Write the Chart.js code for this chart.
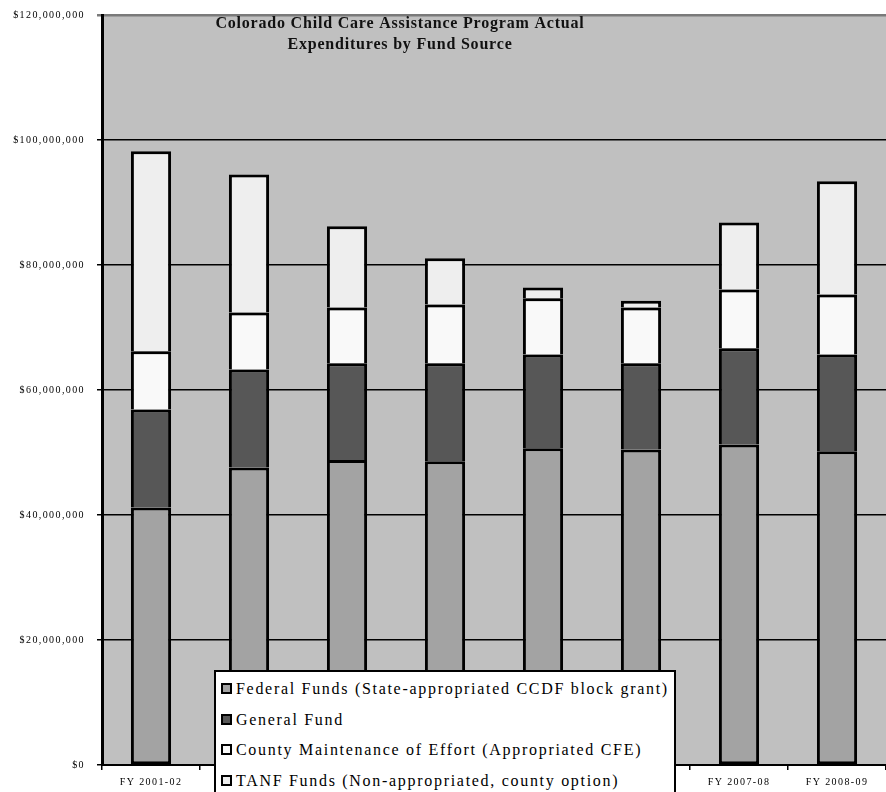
<!DOCTYPE html>
<html>
<head>
<meta charset="utf-8">
<script src="https://cdn.jsdelivr.net/npm/chart.js@4.4.1/dist/chart.umd.min.js"></script>
<style>
    body { margin: 0; background: #fff; }
    #wrap { position: relative; width: 886px; height: 792px; overflow: hidden; }
    #fundLegend {
        position: absolute; left: 214px; top: 670px; width: 462px; height: 140px;
        background: #fff; border: 2px solid #000; box-sizing: border-box;
        font-family: "Liberation Serif", "Times New Roman", serif; font-size: 16px;
        letter-spacing: 1.7px; color: #000; padding: 6px 0 0 5px;
    }
    #fundLegend .row { height: 30.5px; line-height: 22px; white-space: nowrap; }
    #fundLegend .box {
        display: inline-block; width: 7px; height: 7px; border: 2px solid #000;
        margin-right: 4px; vertical-align: 0px;
    }
</style>
</head>
<body>
<div id="wrap">
    <canvas id="myCanvas" width="886" height="792"></canvas>
    <div id="fundLegend"></div>
</div>
<script>
// fiscal years
const years = ['FY 2001-02', 'FY 2002-03', 'FY 2003-04', 'FY 2004-05',
    'FY 2005-06', 'FY 2006-07', 'FY 2007-08', 'FY 2008-09'];

// expenditures in millions of dollars
const federalFunds = [41.2, 47.6, 48.8, 48.6, 50.7, 50.5, 51.3, 50.2];
const generalFund = [15.7, 15.7, 15.5, 15.7, 15.0, 13.8, 15.4, 15.5];
const countyMOE = [9.3, 9.1, 8.9, 9.4, 9.0, 8.9, 9.4, 9.6];
const tanfFunds = [32.0, 22.1, 13.0, 7.4, 1.7, 1.1, 10.7, 18.1];

const seriesNames = [
    'Federal Funds (State-appropriated CCDF block grant)',
    'General Fund',
    'County Maintenance of Effort (Appropriated CFE)',
    'TANF Funds (Non-appropriated, county option)'
];
const seriesColors = ['#a3a3a3', '#575757', '#f9f9f9', '#eeeeee'];

const titleLines = ['Colorado Child Care Assistance Program Actual', 'Expenditures by Fund Source'];

const toDollars = arr => arr.map(v => Math.round(v * 1000000));

const serif = '"Liberation Serif", "Times New Roman", serif';

// grey plot area + letter spacing for the axis text
const plotBackground = {
    id: 'plotBackground',
    beforeDraw(chart) {
        const {ctx, chartArea} = chart;
        ctx.save();
        ctx.fillStyle = '#c0c0c0';
        ctx.fillRect(chartArea.left, chartArea.top, chartArea.right - chartArea.left, chartArea.bottom - chartArea.top);
        ctx.restore();
        ctx.letterSpacing = '1.4px';
    }
};

const chartTitle = {
    id: 'chartTitle',
    afterDatasetsDraw(chart) {
        const ctx = chart.ctx;
        ctx.save();
        ctx.letterSpacing = '0.8px';
        ctx.font = 'bold 16px ' + serif;
        ctx.fillStyle = '#111';
        ctx.textAlign = 'center';
        ctx.textBaseline = 'middle';
        ctx.fillText(titleLines[0], 400, 24);
        ctx.fillText(titleLines[1], 400, 45);
        ctx.restore();
    }
};

const datasets = [federalFunds, generalFund, countyMOE, tanfFunds].map((d, i) => ({
    label: seriesNames[i],
    data: toDollars(d),
    backgroundColor: seriesColors[i],
    borderColor: '#000',
    borderWidth: 3,
    borderSkipped: i === 0 ? false : 'start'
}));

new Chart(document.getElementById('myCanvas'), {
    type: 'bar',
    data: {labels: years, datasets: datasets},
    options: {
        responsive: false,
        animation: false,
        layout: {padding: {top: 15, right: 0, left: 0, bottom: 0}},
        datasets: {bar: {categoryPercentage: 1, barPercentage: 0.41}},
        plugins: {
            legend: {display: false},
            tooltip: {enabled: false}
        },
        scales: {
            x: {
                stacked: true,
                afterFit: s => { s.height = 27; },
                border: {color: '#000', width: 2},
                grid: {drawOnChartArea: false, color: '#000', lineWidth: 1.5, tickLength: 5},
                ticks: {color: '#000', font: {family: serif, size: 10}, padding: 6, maxRotation: 0, autoSkip: false}
            },
            y: {
                stacked: true,
                min: 0,
                max: 120000000,
                afterFit: s => {
                    s.width = 102;
                    s.paddingTop = 0;
                    s.paddingBottom = 0;
                },
                border: {color: '#000', width: 3},
                grid: {
                    color: c => c.index === 6 ? '#7a7a7a' : '#000',
                    lineWidth: c => c.index === 6 ? 2.5 : 1.5,
                    tickLength: 5
                },
                ticks: {
                    stepSize: 20000000,
                    color: '#000',
                    padding: 12,
                    font: {family: serif, size: 10},
                    callback: v => '$' + v.toLocaleString('en-US')
                }
            }
        }
    },
    plugins: [plotBackground, chartTitle]
});

// legend box over the bottom of the chart
const legend = document.getElementById('fundLegend');
seriesNames.forEach((name, i) => {
    const row = document.createElement('div');
    row.className = 'row';
    const box = document.createElement('span');
    box.className = 'box';
    box.style.background = seriesColors[i];
    row.appendChild(box);
    row.appendChild(document.createTextNode(name));
    legend.appendChild(row);
});
</script>
</body>
</html>
